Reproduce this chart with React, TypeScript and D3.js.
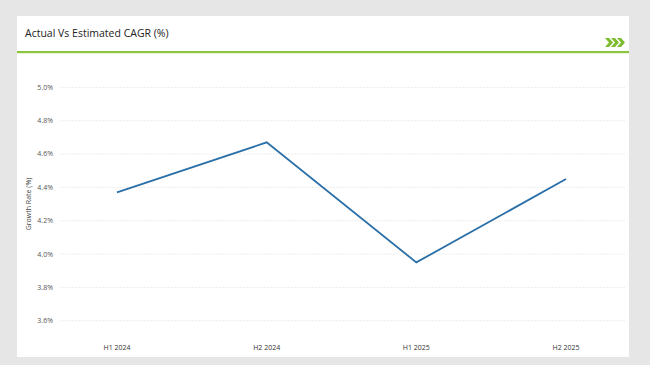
import React from "react";
import * as d3 from "d3";

const categories = ["H1 2024", "H2 2024", "H1 2025", "H2 2025"];
const growthValues = [4.37, 4.67, 3.95, 4.45];
const yTicks = [3.6, 3.8, 4.0, 4.2, 4.4, 4.6, 4.8, 5.0];
const title = "Actual Vs Estimated CAGR (%)";
const yAxisTitle = "Growth Rate (%)";

const W = 650;
const H = 365;
const FONT = "'Open Sans', 'Liberation Sans', sans-serif";

export default function App() {
  const x = d3.scalePoint<string>().domain(categories).range([117, 566]);
  const y = d3.scaleLinear().domain([3.5, 5.1]).range([337.4, 70.7]);
  const line = d3
    .line<number>()
    .x((_, i) => x(categories[i]) as number)
    .y((d) => y(d));

  const chevron = (cx: number) =>
    `M${cx},38 L${cx + 4},38 L${cx + 8},42.5 L${cx + 4},47 L${cx},47 L${cx + 4},42.5 Z`;

  return (
    <svg
      width={W}
      height={H}
      style={{ position: "absolute", left: 0, top: 0 }}
      fontFamily={FONT}
    >
      <rect x={0} y={0} width={W} height={H} fill="#e6e6e6" />
      <rect x={17} y={16} width={612} height={341} fill="#ffffff" />
      <text x={25} y={37} fontSize={10.5} fill="#222">
        {title}
      </text>
      <rect x={17} y={51} width={612} height={2.2} fill="#8cc63f" />
      {[605, 611, 617].map((cx) => (
        <path key={cx} d={chevron(cx)} fill="#7dbb2f" />
      ))}

      {yTicks.map((t) => (
        <g key={t}>
          <line
            x1={60}
            x2={625}
            y1={y(t)}
            y2={y(t)}
            stroke="#e9e9e9"
            strokeWidth={0.8}
            strokeDasharray="2,1"
          />
          <text
            x={53}
            y={y(t)}
            dy="0.35em"
            textAnchor="end"
            fontSize={7}
            fill="#555"
          >
            {t.toFixed(1)}%
          </text>
        </g>
      ))}

      <text
        transform={`translate(31,${y(4.3)}) rotate(-90)`}
        textAnchor="middle"
        fontSize={7}
        fill="#444"
      >
        {yAxisTitle}
      </text>

      {categories.map((c) => (
        <text
          key={c}
          x={x(c)}
          y={350}
          textAnchor="middle"
          fontSize={7}
          fill="#333"
        >
          {c}
        </text>
      ))}

      <path
        d={line(growthValues) ?? ""}
        fill="none"
        stroke="#2a6fa8"
        strokeWidth={1.8}
        strokeLinejoin="miter"
      />
    </svg>
  );
}
